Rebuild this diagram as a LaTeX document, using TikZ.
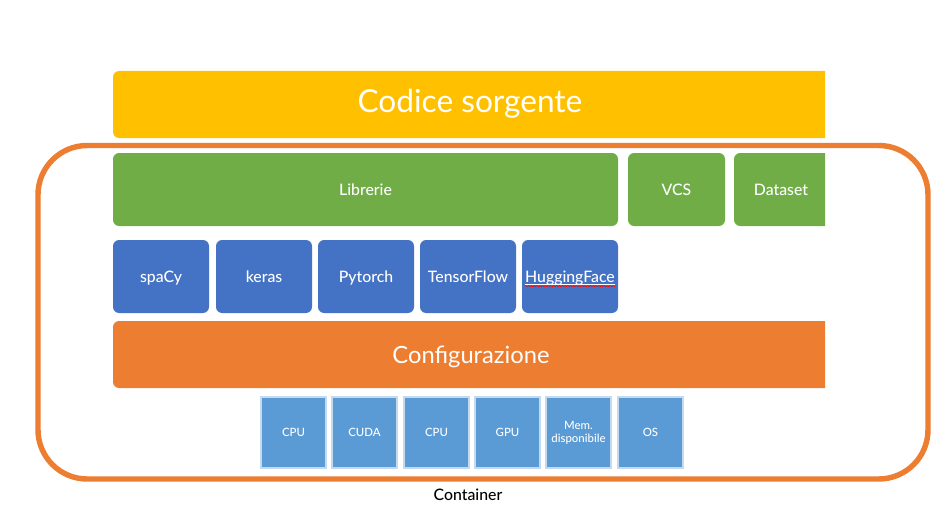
\documentclass[tikz,border=0pt]{standalone}
\usepackage{fontspec}
\setmainfont{Lato}
\newfontfamily\medio{Lato Medium}
\usetikzlibrary{decorations.pathmorphing}
\definecolor{giallo}{HTML}{FFC000}
\definecolor{verde}{HTML}{70AD47}
\definecolor{blu}{HTML}{4472C4}
\definecolor{arancio}{HTML}{ED7D31}
\definecolor{celeste}{HTML}{5B9BD5}
\definecolor{bordino}{HTML}{C5DAEE}

\begin{document}
\begin{tikzpicture}[x=0.02cm,y=-0.02cm,
  blocco/.style={rounded corners=3.5pt},
  scritta/.style={text=white,inner sep=0pt,text height=6.5pt,text depth=0pt,font=\medio\fontsize{9}{10}\selectfont}]
\useasboundingbox (0,0) rectangle (946,527);
% barre tagliate sul bordo destro
\begin{scope}
\clip (0,0) rectangle (825,527);
\fill[giallo,blocco] (113,71) rectangle (860,138);
\fill[verde,blocco] (734,153) rectangle (860,226);
\fill[arancio,blocco] (113,321) rectangle (860,388);
\end{scope}
\node[scritta,text height=13pt,font=\fontsize{18}{20}\selectfont] (sorgente) at (470,101) {Codice sorgente};
\node[scritta] (dataset) at (781,189.5) {Dataset};
\node[scritta,text height=9.7pt,font=\fontsize{13.5}{15}\selectfont] (config) at (471,355) {Configurazione};
% librerie e vcs
\foreach \xa/\xb/\nome/\testo in {113/618/librerie/Librerie,628/725/vcs/VCS} {
  \fill[verde,blocco] (\xa,153) rectangle (\xb,226);
  \node[scritta] (\nome) at ({(\xa+\xb)/2},189.5) {\testo};
}
\foreach \xa/\nome/\testo in {113/spacy/spaCy,216/keras/keras,318/pytorch/Pytorch,420/tensorflow/TensorFlow,522/hugging/HuggingFace} {
  \fill[blu,blocco] (\xa,240) rectangle ({\xa+96},313);
  \node[scritta] (\nome) at ({\xa+48},276.5) {\testo};
}
\draw[white,line width=0.4pt] ([yshift=-1.2pt]hugging.base west) -- ([yshift=-1.2pt]hugging.base east);
\draw[red,line width=0.3pt,decorate,decoration={snake,amplitude=0.35pt,segment length=1.6pt}] ([yshift=-2.2pt]hugging.base west) -- ([yshift=-2.2pt]hugging.base east);
% risorse
\foreach \xa/\nome/\testo in {261/cpua/CPU,332/cuda/CUDA,404/cpub/CPU,475/gpu/GPU,618/os/OS} {
  \draw[fill=celeste,draw=bordino,line width=1pt] (\xa,397) rectangle ({\xa+65},468);
  \node[scritta,text height=4.7pt,font=\medio\fontsize{6.5}{7.5}\selectfont] (\nome) at ({\xa+32.5},432) {\testo};
}
\draw[fill=celeste,draw=bordino,line width=1pt] (546,397) rectangle (611,468);
\node[text=white,inner sep=0pt,align=center,font=\medio\fontsize{6.5}{7.5}\selectfont] (mem) at (578.5,433) {Mem.\\disponibile};
% container
\draw[arancio,line width=3.1pt,rounded corners=28pt] (38,145.5) rectangle (928,479);
\node[inner sep=0pt,text height=6.5pt,text depth=0pt,font=\medio\fontsize{9}{10}\selectfont] (container) at (468,495) {Container};
\end{tikzpicture}
\end{document}
